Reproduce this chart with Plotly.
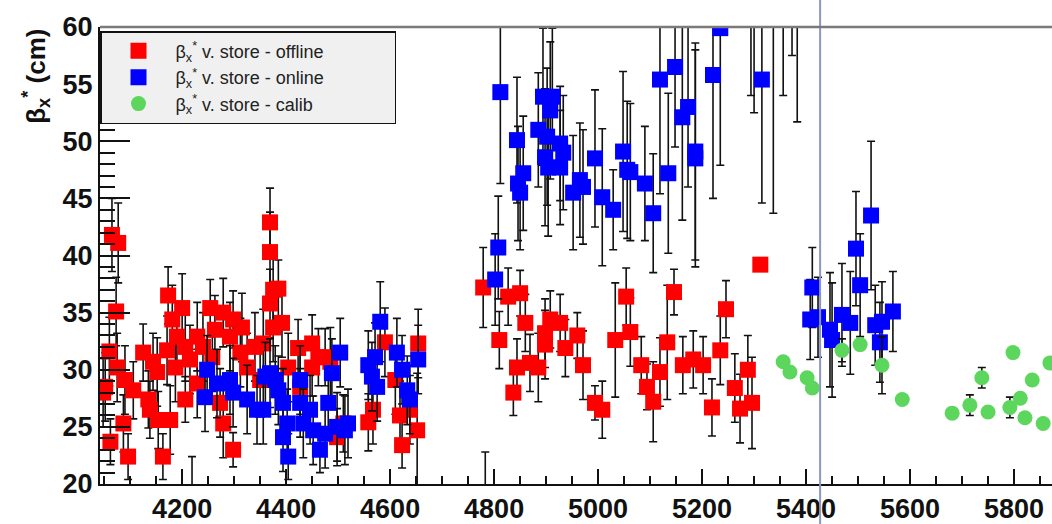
import plotly.graph_objects as go

# ---------------- data (store number, beta*_x in cm, error) ----------------
off_store = [4048, 4052, 4060, 4062, 4065, 4073, 4075, 4077, 4087, 4090, 4096, 4106,
             4125, 4135, 4138, 4144, 4152, 4154, 4163, 4171, 4173, 4177, 4181, 4187,
             4190, 4200, 4206, 4206, 4215, 4219, 4229, 4229, 4240, 4254, 4258, 4263,
             4273, 4279, 4279, 4292, 4298, 4298, 4312, 4315, 4325, 4340, 4350, 4356,
             4369, 4369, 4369, 4375, 4375, 4385, 4392, 4404, 4423, 4427, 4450, 4450,
             4462, 4475, 4485, 4498, 4510, 4558, 4567, 4590, 4610, 4619, 4623, 4638,
             4652, 4654,
             4779, 4783, 4810, 4827, 4837, 4844, 4850, 4860, 4869, 4885, 4898, 4898,
             4908, 4927, 4937, 4960, 4971, 4994, 5008, 5033, 5054, 5062, 5083, 5094,
             5106, 5119, 5133, 5146, 5163, 5183, 5202, 5219, 5235, 5246, 5263, 5273,
             5288, 5296, 5312]
off_beta = [28.0, 28.5, 31.6, 23.7, 41.8, 35.1, 30.2, 41.1, 25.3, 29.1, 22.4, 28.2,
            31.5, 27.4, 26.5, 30.7, 29.8, 25.6, 22.4, 31.7, 36.5, 25.6, 34.4, 30.2,
            32.9, 35.4, 32.0, 27.4, 30.9, 17.0, 32.9, 28.8, 32.0, 35.4, 31.1, 33.5,
            27.1, 25.3, 35.0, 32.9, 34.4, 23.0, 31.5, 33.7, 30.2, 32.0, 29.1, 32.3,
            42.9, 40.3, 35.8, 37.0, 33.7, 37.1, 34.1, 30.2, 31.9, 28.5, 32.3, 30.2,
            31.1, 31.1, 30.7, 24.1, 25.3, 25.4, 26.5, 32.4, 29.1, 26.0, 23.4, 26.5,
            24.7, 32.3,
            37.2, 17.0, 32.6, 36.4, 28.0, 30.2, 36.7, 34.1, 30.6, 30.2, 33.2, 32.2,
            34.4, 34.1, 31.9, 33.0, 30.4, 27.1, 26.5, 32.6, 36.4, 33.3, 30.4, 28.5,
            27.2, 29.8, 32.4, 36.8, 30.4, 30.9, 30.4, 26.7, 31.7, 35.3, 28.4, 26.6,
            30.0, 27.1, 39.2]
off_err = [3.0, 3.0, 3.0, 2.0, 3.2, 3.0, 3.0, 3.5, 2.5, 3.0, 2.0, 2.5,
           2.5, 2.5, 2.5, 2.5, 3.0, 2.5, 2.0, 3.0, 2.5, 3.0, 3.0, 3.0,
           3.0, 3.0, 3.0, 2.0, 3.0, 5.4, 3.0, 3.0, 3.0, 2.5, 3.0, 3.0,
           3.0, 3.0, 3.0, 3.0, 2.5, 1.5, 3.0, 3.0, 3.0, 3.0, 3.0, 3.0,
           3.0, 3.5, 3.0, 3.0, 3.0, 2.5, 3.0, 3.0, 2.5, 3.0, 2.5, 2.5,
           2.5, 2.5, 3.0, 2.5, 2.5, 2.5, 3.0, 3.0, 3.0, 3.0, 2.0, 3.0,
           5.0, 3.0,
           3.5, 5.8, 2.5, 2.5, 2.0, 2.5, 2.0, 2.5, 2.5, 3.0, 3.0, 3.0,
           2.5, 2.5, 2.5, 2.0, 3.0, 1.5, 2.5, 5.0, 2.5, 3.0, 2.5, 2.0,
           3.5, 3.0, 5.0, 2.0, 2.5, 2.5, 2.5, 2.5, 3.0, 2.5, 3.0, 3.0,
           3.0, 4.0, 0.0]

on_store = [4244, 4248, 4267, 4292, 4298, 4325, 4344, 4356, 4360, 4369, 4379, 4385,
            4394, 4394, 4402, 4404, 4427, 4427, 4433, 4446, 4452, 4465, 4475, 4481,
            4488, 4498, 4504, 4513, 4519, 4558, 4565, 4571, 4575, 4581, 4613, 4623,
            4633, 4638, 4654,
            4802, 4808, 4812, 4844, 4846, 4850, 4856, 4885, 4894, 4898, 4902, 4904,
            4908, 4912, 4927, 4927, 4933, 4952, 4965, 4971, 4994, 5008, 5029, 5048,
            5056, 5062, 5090, 5106, 5119, 5135, 5148, 5162, 5173, 5187, 5187, 5221,
            5235, 5294, 5300, 5315, 5337, 5356, 5373, 5383,
            5408, 5412, 5423, 5446, 5450, 5469, 5485, 5496, 5504, 5525, 5533, 5542,
            5546, 5567]
on_beta = [27.6, 30.0, 28.8, 29.1, 28.0, 27.4, 26.5, 26.5, 29.4, 29.7, 29.1, 28.2,
           27.1, 24.1, 25.3, 22.4, 29.1, 27.1, 25.3, 26.5, 24.7, 23.0, 24.4, 27.1,
           29.7, 25.0, 31.5, 24.7, 25.3, 30.4, 29.4, 31.1, 28.5, 34.2, 31.5, 30.0,
           28.2, 27.4, 30.9,
           37.9, 40.7, 54.3, 50.1, 46.3, 45.5, 47.2, 51.0, 53.9, 48.6, 50.4, 47.7,
           52.7, 53.9, 49.8, 47.7, 49.0, 45.5, 46.6, 46.0, 48.5, 45.1, 44.0, 49.1,
           47.5, 47.3, 46.3, 43.7, 55.4, 47.2, 56.5, 52.1, 53.0, 49.1, 48.5, 55.8,
           59.9, 63.0, 63.0, 55.4, 64.0, 62.0, 62.5, 62.0,
           34.4, 37.2, 34.6, 33.5, 32.6, 34.8, 34.1, 40.6, 37.4, 43.5, 33.9, 32.4,
           34.2, 35.1]
on_err = [3.0, 3.0, 3.0, 3.0, 3.0, 3.0, 3.0, 3.0, 3.0, 3.0, 3.0, 3.0,
          3.0, 3.0, 3.0, 2.0, 3.0, 3.0, 3.0, 3.0, 3.0, 2.0, 3.0, 3.0,
          3.0, 3.0, 3.0, 3.0, 3.0, 3.0, 3.0, 3.0, 3.0, 3.5, 3.0, 3.0,
          3.0, 3.0, 3.0,
          4.0, 4.5, 8.0, 5.5, 5.0, 5.0, 5.0, 5.0, 6.0, 6.0, 6.0, 6.0,
          6.0, 6.0, 5.0, 5.0, 5.0, 5.0, 5.0, 5.0, 6.0, 6.0, 3.5, 7.0,
          6.0, 6.0, 5.0, 5.2, 10.0, 7.0, 7.0, 9.0, 7.0, 9.5, 9.5, 10.8,
          12.0, 9.0, 10.5, 10.8, 20.3, 8.0, 5.0, 10.3,
          3.5, 3.5, 3.5, 5.0, 5.0, 4.5, 4.5, 5.0, 4.5, 6.5, 3.5, 3.5,
          3.5, 3.5]

cal_store = [5356, 5369, 5402, 5412, 5469, 5504, 5546, 5585, 5681, 5715, 5738, 5750,
             5792, 5798, 5812, 5821, 5835, 5856, 5869]
cal_beta = [30.7, 29.8, 29.3, 28.4, 31.7, 32.2, 30.4, 27.4, 26.2, 26.9, 29.3, 26.3,
            26.7, 31.5, 27.5, 25.8, 29.1, 25.3, 30.6]
cal_err = [0.0, 0.0, 0.0, 0.0, 1.0, 0.0, 2.5, 0.0, 0.0, 0.9, 0.9, 0.0,
           0.9, 0.0, 0.0, 0.0, 0.0, 0.0, 0.0]

marker_store = 5427   # vertical reference line
x_range = [4042, 5873]
y_range = [20, 60]

FONT = "Liberation Sans, Arial, Helvetica, sans-serif"
BETA = "β<sub>x</sub><sup>*</sup>"
PAD = "\u00a0" * 13   # widens the legend box like the reference


def eb(err):
    return dict(type="data", array=err, visible=True, color="#111111",
                thickness=1.6, width=4)


fig = go.Figure()
fig.add_trace(go.Scatter(
    x=off_store, y=off_beta, mode="markers", name=BETA + " v. store - offline" + PAD,
    marker=dict(symbol="square", size=16, color="#ff0000", line=dict(width=0)),
    error_y=eb(off_err)))
fig.add_trace(go.Scatter(
    x=on_store, y=on_beta, mode="markers", name=BETA + " v. store - online" + PAD,
    marker=dict(symbol="square", size=16, color="#0000ff", line=dict(width=0)),
    error_y=eb(on_err)))
fig.add_trace(go.Scatter(
    x=cal_store, y=cal_beta, mode="markers", name=BETA + " v. store - calib" + PAD,
    marker=dict(symbol="circle", size=15, color="#5cd65c", line=dict(width=0)),
    error_y=eb(cal_err)))

# vertical reference line spanning the whole picture height
fig.add_shape(type="line", xref="x", yref="paper", x0=marker_store, x1=marker_store,
              y0=-0.12, y1=1.12, line=dict(color="#8b97bf", width=2), layer="above")
# top frame line
fig.add_shape(type="line", xref="paper", yref="paper", x0=0, x1=1, y0=1, y1=1,
              line=dict(color="#7a7a7a", width=2.5), layer="above")

# y-axis title
fig.add_annotation(text="<b>" + BETA + " (cm)</b>", xref="paper", yref="paper",
                   x=-0.068, y=1.0, xanchor="center", yanchor="top", textangle=-90,
                   showarrow=False, font=dict(family=FONT, size=26, color="#111111"))

fig.update_layout(
    width=1052, height=524,
    margin=dict(l=100, r=0, t=27, b=40),
    paper_bgcolor="white", plot_bgcolor="white",
    showlegend=True,
    legend=dict(x=0, y=0.991, xanchor="left", yanchor="top",
                bgcolor="#f0f0f0", bordercolor="#111111", borderwidth=1.5,
                itemwidth=64, font=dict(family=FONT, size=18, color="#222222")),
    xaxis=dict(range=x_range, tick0=4000, dtick=200, ticks="inside", ticklen=15,
               tickwidth=2, tickcolor="#111111", showgrid=False, zeroline=False,
               showline=True, linecolor="#111111", linewidth=2,
               tickfont=dict(family=FONT, size=27, color="#111111", weight="bold"),
               minor=dict(dtick=50, ticks="inside", ticklen=8, tickwidth=2,
                          tickcolor="#111111", showgrid=False)),
    yaxis=dict(range=y_range, tick0=0, dtick=5, ticks="inside", ticklen=30,
               tickwidth=2, tickcolor="#111111", showgrid=False, zeroline=False,
               showline=True, linecolor="#111111", linewidth=2,
               tickfont=dict(family=FONT, size=27, color="#111111", weight="bold"),
               minor=dict(dtick=1, ticks="inside", ticklen=15, tickwidth=2,
                          tickcolor="#111111", showgrid=False)),
)

fig.write_html("out.html")
